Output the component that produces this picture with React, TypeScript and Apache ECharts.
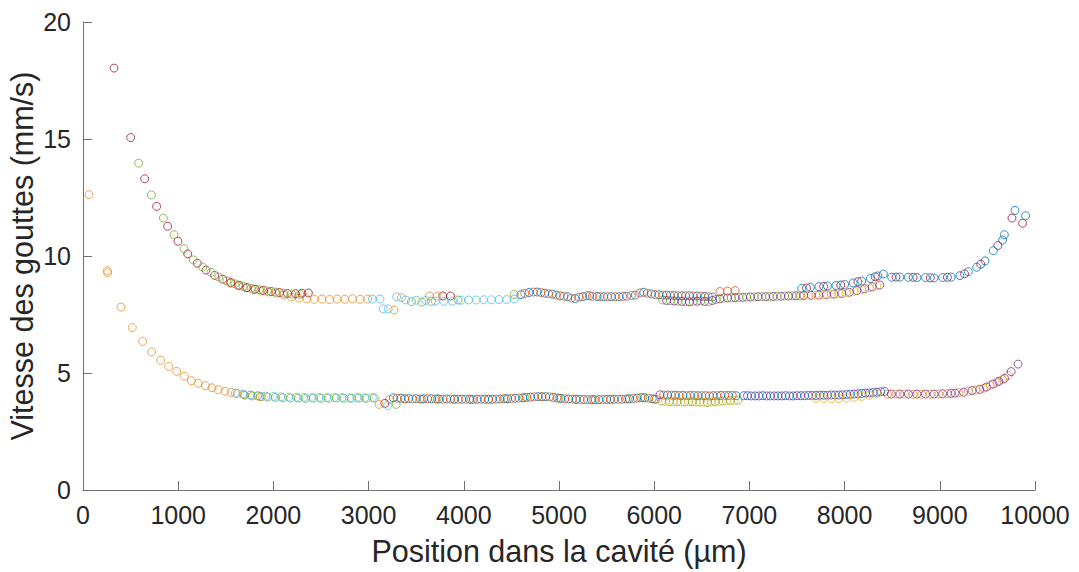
import React, { useEffect, useRef } from "react";
import * as echarts from "echarts";

// x: position in µm, y: velocity in mm/s
const amberPts: number[][] = [
  [63, 12.62], [255, 9.37], [259, 9.29], [399, 7.82], [518, 6.94], [626, 6.35], [721, 5.9], [816, 5.54], [900, 5.28],
  [984, 5.07], [1064, 4.86], [1138, 4.67], [1211, 4.56], [1285, 4.46], [1355, 4.37], [1421, 4.29], [1492, 4.22],
  [1555, 4.17], [1620, 4.12], [1690, 4.08], [1760, 4.05], [1830, 4.02], [1880, 3.99],
  [1550, 8.83], [1630, 8.73], [1710, 8.64], [1790, 8.57], [1870, 8.51], [1950, 8.46], [2030, 8.41], [2110, 8.33],
  [2190, 8.24], [2270, 8.2], [2350, 8.17], [2430, 8.15], [2510, 8.16], [2590, 8.14], [2670, 8.16], [2750, 8.15],
  [2830, 8.17], [2910, 8.15], [2990, 8.16], [3267, 7.69], [3345, 8.22], [3640, 8.29], [3720, 8.29],
  [3110, 3.66], [3220, 3.87],
  [8450, 4.1], [8540, 4.1], [8630, 4.1], [8720, 4.09], [8810, 4.09], [8900, 4.1], [8990, 4.1], [9080, 4.12],
  [9200, 4.16], [9300, 4.22], [9380, 4.27], [9460, 4.35], [9530, 4.47], [9600, 4.6], [9660, 4.72], [9720, 4.9],
];

const darkRedPts: number[][] = [
  [326, 18.03], [501, 15.06], [648, 13.3], [774, 12.12], [889, 11.27], [998, 10.63], [1100, 10.09], [1201, 9.69],
  [1292, 9.4], [1383, 9.17], [1468, 9.01], [1553, 8.87], [1638, 8.75], [1723, 8.65], [1808, 8.58], [1893, 8.53],
  [1978, 8.48], [2063, 8.44], [2148, 8.4], [2233, 8.39], [2300, 8.41], [2367, 8.42],
  [3780, 8.29], [3860, 8.29], [3170, 3.7],
  [7600, 8.63], [7780, 8.7], [7960, 8.76], [8140, 8.9], [8320, 9.11], [8540, 9.1], [8720, 9.09], [8900, 9.07],
  [9080, 9.09], [9260, 9.24], [9430, 9.65], [9610, 10.45], [9758, 11.62], [9870, 11.4],
];

const greenPts: number[][] = [
  [585, 13.97], [718, 12.61], [844, 11.62], [956, 10.91], [1061, 10.31], [1159, 9.83], [1257, 9.53], [1345, 9.3],
  [1426, 9.1], [1511, 8.94], [1596, 8.81], [1681, 8.7], [1766, 8.62], [1851, 8.56], [1936, 8.51], [2021, 8.46],
  [2106, 8.41], [2191, 8.37], [2276, 8.36],
  [3450, 8.05], [3560, 8.03], [3660, 8.06], [3940, 8.12], [4530, 8.35],
  [6090, 8.12], [6170, 8.09], [6250, 8.07], [6330, 8.05], [6410, 8.06], [6490, 8.08], [6570, 8.05], [6650, 8.14],
  [6730, 8.2], [6810, 8.21], [6890, 8.23], [6970, 8.24], [7050, 8.25], [7130, 8.26], [7210, 8.27], [7290, 8.28],
  [7370, 8.29], [7450, 8.3], [7530, 8.3],
  [1700, 4.05], [1780, 4.02], [1860, 3.99], [1940, 3.97], [2020, 3.96], [2100, 3.94], [2180, 3.93], [2260, 3.93],
  [2340, 3.92], [2420, 3.93], [2500, 3.92], [2580, 3.92], [2660, 3.93], [2740, 3.92], [2820, 3.92], [2900, 3.93],
  [2980, 3.92], [3060, 3.93], [3290, 3.66],
  [3380, 3.9], [3560, 3.88], [3720, 3.89], [3900, 3.88], [4080, 3.87], [4260, 3.88], [4440, 3.9], [4640, 3.95],
  [4820, 3.98], [5000, 3.92], [5180, 3.87], [5360, 3.86], [5540, 3.87], [5720, 3.89], [5880, 3.95], [6000, 3.88],
  [6080, 3.8], [6160, 3.78], [6240, 3.77], [6320, 3.76], [6400, 3.77], [6480, 3.76], [6560, 3.74], [6640, 3.78],
  [6720, 3.8], [6800, 3.82], [6880, 3.84],
];

const cyanPts: number[][] = [
  [1600, 4.14], [1680, 4.1], [1760, 4.06], [1840, 4.03], [1920, 4.01], [2000, 4.0], [2080, 3.98], [2160, 3.97],
  [2240, 3.96], [2320, 3.96], [2400, 3.95], [2480, 3.96], [2560, 3.95], [2640, 3.95], [2720, 3.95], [2800, 3.94],
  [2880, 3.95], [2960, 3.94], [3040, 3.95], [3200, 3.61],
  [3040, 8.16], [3120, 8.16], [3154, 7.74], [3207, 7.74], [3295, 8.25], [3390, 8.12], [3500, 8.11], [3600, 8.1],
  [3700, 8.07], [3790, 8.06], [3880, 8.07], [3970, 8.11], [4050, 8.12], [4130, 8.12], [4210, 8.13], [4290, 8.13],
  [4370, 8.14], [4450, 8.14], [4530, 8.16],
];

const bluePts: number[][] = [
  [4600, 8.35], [4685, 8.44], [4770, 8.46], [4850, 8.41], [4930, 8.37], [5010, 8.3], [5090, 8.26], [5170, 8.18],
  [5250, 8.26], [5320, 8.3], [5400, 8.27], [5470, 8.26], [5550, 8.26], [5630, 8.26], [5710, 8.28], [5800, 8.33],
  [5890, 8.45], [5970, 8.38], [6050, 8.34], [6130, 8.33], [6210, 8.31], [6290, 8.3], [6370, 8.3], [6450, 8.29],
  [6530, 8.27], [6610, 8.25],
  [7550, 8.62], [7640, 8.66], [7730, 8.69], [7820, 8.72], [7910, 8.74], [8000, 8.78], [8090, 8.85], [8180, 8.93],
  [8270, 9.04], [8350, 9.15], [8407, 9.23], [8494, 9.09], [8580, 9.1], [8670, 9.09], [8760, 9.08], [8850, 9.08],
  [8940, 9.06], [9030, 9.08], [9120, 9.1], [9212, 9.16], [9300, 9.33], [9388, 9.52], [9475, 9.79], [9562, 10.23],
  [9660, 10.68], [9678, 10.91], [9790, 11.95], [9902, 11.72],
  [3260, 3.94], [3340, 3.92], [3420, 3.91], [3500, 3.9], [3580, 3.9], [3660, 3.9], [3740, 3.89], [3820, 3.89],
  [3900, 3.88], [3980, 3.88], [4060, 3.88], [4140, 3.88], [4220, 3.88], [4300, 3.88], [4380, 3.89], [4460, 3.9],
  [4540, 3.92], [4620, 3.94], [4700, 3.97], [4780, 3.99], [4860, 3.99], [4940, 3.96], [5020, 3.92], [5100, 3.89],
  [5180, 3.88], [5260, 3.87], [5340, 3.86], [5420, 3.86], [5500, 3.87], [5580, 3.88], [5660, 3.88], [5740, 3.9],
  [5820, 3.93], [5900, 3.94], [5980, 3.9],
  [6140, 4.06], [6220, 4.05], [6300, 4.04], [6380, 4.04], [6460, 4.03], [6540, 4.03], [6620, 4.03], [6700, 4.04],
  [6780, 4.04], [6860, 4.03], [6940, 4.03], [7020, 4.02], [7100, 4.02], [7180, 4.02], [7260, 4.02], [7340, 4.02],
  [7420, 4.02], [7500, 4.03], [7580, 4.03], [7660, 4.04], [7740, 4.05], [7820, 4.05], [7900, 4.06], [7980, 4.07],
  [8060, 4.09], [8140, 4.11], [8220, 4.14], [8300, 4.17], [8380, 4.2],
];

const orangeRedPts: number[][] = [
  [4640, 8.4], [4730, 8.46], [4810, 8.44], [4890, 8.39], [4970, 8.33], [5050, 8.28], [5130, 8.2], [5210, 8.24],
  [5290, 8.3], [5350, 8.28], [5430, 8.26], [5510, 8.26], [5590, 8.26], [5670, 8.27], [5760, 8.31], [5850, 8.42],
  [5930, 8.41], [6010, 8.35], [6090, 8.33], [6170, 8.32], [6250, 8.3], [6330, 8.3], [6410, 8.29], [6490, 8.28],
  [6570, 8.26], [6690, 8.48], [6770, 8.5], [6850, 8.52],
  [3300, 3.92], [3380, 3.9], [3460, 3.89], [3540, 3.89], [3620, 3.9], [3700, 3.89], [3780, 3.88], [3860, 3.89],
  [3940, 3.88], [4020, 3.88], [4100, 3.87], [4180, 3.88], [4260, 3.87], [4340, 3.88], [4420, 3.9], [4500, 3.91],
  [4580, 3.93], [4660, 3.96], [4740, 3.98], [4820, 3.99], [4900, 3.98], [4980, 3.94], [5060, 3.9], [5140, 3.88],
  [5220, 3.87], [5300, 3.86], [5380, 3.86], [5460, 3.87], [5540, 3.88], [5620, 3.88], [5700, 3.89], [5780, 3.91],
  [5860, 3.95], [5940, 3.92], [6020, 3.88],
  [6100, 4.06], [6180, 4.05], [6260, 4.04], [6340, 4.03], [6420, 4.04], [6500, 4.03], [6580, 4.02], [6660, 4.03],
  [6740, 4.04], [6820, 4.05],
];

const purplePts: number[][] = [
  [6130, 8.1], [6210, 8.08], [6290, 8.06], [6370, 8.04], [6450, 8.07], [6530, 8.06], [6610, 8.1], [6690, 8.17],
  [6770, 8.21], [6850, 8.22], [6930, 8.23], [7010, 8.25], [7090, 8.26], [7170, 8.26], [7250, 8.27], [7330, 8.28],
  [7410, 8.29], [7490, 8.3], [7570, 8.31], [7650, 8.32], [7730, 8.33], [7810, 8.35], [7890, 8.37], [7970, 8.4],
  [8050, 8.45], [8130, 8.52], [8210, 8.6], [8290, 8.68], [8370, 8.76],
  [6060, 4.07], [6980, 4.03], [7060, 4.02], [7140, 4.03], [7220, 4.02], [7300, 4.02], [7380, 4.03], [7460, 4.02],
  [7540, 4.03], [7620, 4.04], [7700, 4.04], [7780, 4.05], [7860, 4.06], [7940, 4.06], [8020, 4.08], [8100, 4.1],
  [8180, 4.13], [8260, 4.15], [8340, 4.18], [8420, 4.21],
  [8490, 4.1], [8580, 4.1], [8670, 4.1], [8760, 4.1], [8850, 4.1], [8940, 4.1], [9030, 4.11], [9120, 4.13],
  [9160, 4.14], [9250, 4.18], [9340, 4.25], [9420, 4.3], [9490, 4.4], [9560, 4.53], [9620, 4.65], [9680, 4.77],
  [9750, 5.06], [9822, 5.38],
];

const yellowPts: number[][] = [
  [7540, 8.31], [7620, 8.32], [7700, 8.33], [7780, 8.35], [7860, 8.37], [7940, 8.39], [8020, 8.43], [8100, 8.49],
  [8180, 8.56], [8260, 8.64], [8340, 8.73],
  [6120, 3.79], [6200, 3.77], [6280, 3.76], [6360, 3.77], [6440, 3.76], [6520, 3.75], [6600, 3.76], [6680, 3.79],
  [6760, 3.81], [6840, 3.83],
  [7700, 3.92], [7780, 3.91], [7860, 3.9], [7940, 3.91], [8020, 3.93], [8100, 3.96], [8180, 4.0], [8260, 4.05],
  [8340, 4.12],
];

const xTicks = [0, 10000, 1000];
const yTicks = [0, 20, 5];
const xTitle = "Position dans la cavité (µm)";
const yTitle = "Vitesse des gouttes (mm/s)";

const seriesDefs: { name: string; data: number[][]; color: string }[] = [
  { name: "amber", data: amberPts, color: "#E98F2B" },
  { name: "darkRed", data: darkRedPts, color: "#A2142F" },
  { name: "green", data: greenPts, color: "#77AC30" },
  { name: "cyan", data: cyanPts, color: "#4DBEEE" },
  { name: "blue", data: bluePts, color: "#0072BD" },
  { name: "orangeRed", data: orangeRedPts, color: "#D95319" },
  { name: "purple", data: purplePts, color: "#7E2F8E" },
  { name: "yellow", data: yellowPts, color: "#EDB120" },
];

const FONT = "'Liberation Sans', Arial, Helvetica, sans-serif";
const AXIS_COLOR = "#707070";
const TEXT_COLOR = "#262626";

export default function App() {
  const ref = useRef<HTMLDivElement>(null);
  useEffect(() => {
    if (!ref.current) return;
    const chart = echarts.init(ref.current, undefined, { renderer: "svg" });
    const axisCommon = {
      axisLine: { show: true, lineStyle: { color: AXIS_COLOR, width: 1 } },
      axisTick: { show: true, inside: true, length: 9, lineStyle: { color: AXIS_COLOR, width: 1 } },
      splitLine: { show: false },
      nameTextStyle: { color: TEXT_COLOR, fontSize: 30.5, fontFamily: FONT },
    };
    const labelCommon = {
      color: TEXT_COLOR,
      fontSize: 25,
      fontFamily: FONT,
      margin: 12,
      showMaxLabel: true,
      showMinLabel: true,
      hideOverlap: false,
      formatter: (v: number) => String(v),
    };
    chart.setOption({
      animation: false,
      backgroundColor: "#ffffff",
      grid: { left: 83, right: 44, top: 22, bottom: 82, containLabel: false, outerBoundsMode: "none" },
      xAxis: {
        type: "value",
        min: xTicks[0],
        max: xTicks[1],
        interval: xTicks[2],
        name: xTitle,
        nameLocation: "middle",
        nameGap: 45,
        ...axisCommon,
        axisLabel: labelCommon,
      },
      yAxis: {
        type: "value",
        min: yTicks[0],
        max: yTicks[1],
        interval: yTicks[2],
        name: yTitle,
        nameLocation: "middle",
        nameGap: 46,
        nameMoveOverlap: false,
        ...axisCommon,
        axisLabel: labelCommon,
      },
      series: seriesDefs.map((s) => ({
        type: "scatter",
        name: s.name,
        data: s.data,
        symbol: "circle",
        symbolSize: 8,
        silent: true,
        itemStyle: { color: "rgba(0,0,0,0)", borderColor: s.color, borderWidth: 1 },
        emphasis: { disabled: true },
      })),
    });
    return () => chart.dispose();
  }, []);
  return (
    <div
      ref={ref}
      style={{ position: "absolute", left: 0, top: 0, width: 1079, height: 572, background: "#fff" }}
    />
  );
}
